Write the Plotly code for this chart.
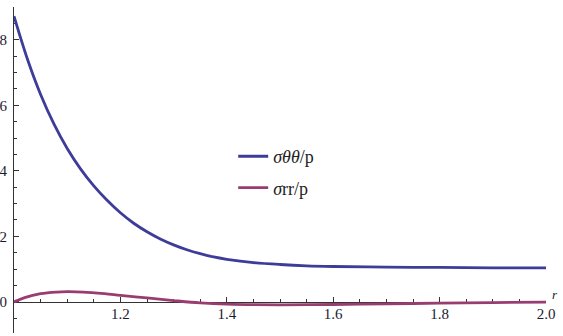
import plotly.graph_objects as go

# radial coordinate r
r_theta = [1.00, 1.025, 1.05, 1.075, 1.10, 1.125, 1.15, 1.175, 1.20, 1.225, 1.25,
           1.275, 1.30, 1.325, 1.35, 1.375, 1.40, 1.45, 1.50, 1.55, 1.60,
           1.70, 1.80, 1.90, 2.00]
sigma_theta = [8.72, 7.42, 6.33, 5.43, 4.68, 4.06, 3.54, 3.10, 2.72, 2.40, 2.14,
               1.92, 1.74, 1.59, 1.47, 1.37, 1.30, 1.20, 1.14, 1.10, 1.08,
               1.06, 1.05, 1.04, 1.04]

r_rr = [1.00, 1.02, 1.05, 1.08, 1.10, 1.13, 1.17, 1.20, 1.25, 1.30, 1.35,
        1.40, 1.50, 1.60, 1.70, 1.80, 1.90, 2.00]
sigma_rr = [0.00, 0.13, 0.25, 0.30, 0.31, 0.30, 0.25, 0.20, 0.12, 0.04, -0.03,
            -0.07, -0.09, -0.08, -0.06, -0.04, -0.02, -0.01]

x_range = [1.0, 2.0]
y_range = [-0.95, 9.0]
x_ticks = [1.2, 1.4, 1.6, 1.8, 2.0]
x_ticklabels = ["1.2", "1.4", "1.6", "1.8", "2.0"]
y_ticks = [0, 2, 4, 6, 8]
y_ticklabels = ["0", "2", "4", "6", "8"]

blue = "#3d3d99"
red = "#993d71"
serif = "Liberation Serif, DejaVu Serif, serif"

fig = go.Figure()
fig.add_trace(go.Scatter(x=r_theta, y=sigma_theta, mode="lines",
                         line=dict(color=blue, width=2.8, shape="spline", smoothing=1.0),
                         name="<i>σθθ</i>/p", legendgroup="a"))
fig.add_trace(go.Scatter(x=r_rr, y=sigma_rr, mode="lines",
                         line=dict(color=red, width=2.8, shape="spline", smoothing=1.0),
                         name="<i>σ</i>rr/p", legendgroup="b"))

zero_frac = (0 - y_range[0]) / (y_range[1] - y_range[0])

fig.update_layout(
    width=563, height=336,
    margin=dict(l=14, r=17, t=7, b=3),
    paper_bgcolor="white", plot_bgcolor="white",
    font=dict(family=serif, size=14, color="#1c1c30"),
    showlegend=True,
    legend=dict(x=0.412, y=0.598, xanchor="left", yanchor="top",
                bgcolor="rgba(0,0,0,0)", font=dict(family=serif, size=18, color="#222"),
                tracegroupgap=5, itemwidth=30),
    xaxis=dict(range=x_range, anchor="free", position=zero_frac,
               showline=True, linecolor="#333", linewidth=1,
               showgrid=False, zeroline=False, layer="below traces",
               ticks="inside", ticklen=5, tickcolor="#333",
               tickvals=x_ticks, ticktext=x_ticklabels,
               minor=dict(ticks="inside", ticklen=3, dtick=0.05, tick0=1.0,
                          tickcolor="#333", showgrid=False),
               automargin=False, tickfont=dict(family=serif, size=15),
               ticklabelstandoff=-2),
    yaxis=dict(range=y_range, showline=True, linecolor="#333", linewidth=1,
               showgrid=False, zeroline=False, layer="below traces",
               ticks="inside", ticklen=5, tickcolor="#333",
               tickvals=y_ticks, ticktext=y_ticklabels,
               minor=dict(ticks="inside", ticklen=3, dtick=0.5, tick0=0,
                          tickcolor="#333", showgrid=False),
               automargin=False, tickfont=dict(family=serif, size=15), ticklabelstandoff=3),
)

fig.add_annotation(x=1.0, y=0, xref="paper", yref="y", text="<i>r</i>",
                   showarrow=False, xanchor="left", yanchor="bottom",
                   xshift=4, yshift=-2, font=dict(family=serif, size=13, color="#222"))

fig.write_html("out.html", config={"displayModeBar": False},
               post_script="document.body.style.margin='0';document.body.style.overflow='hidden';")
